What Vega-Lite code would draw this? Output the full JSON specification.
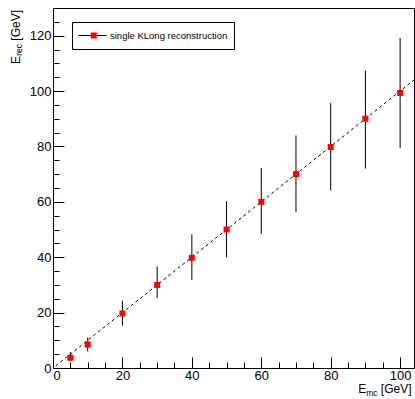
{
  "$schema": "https://vega.github.io/schema/vega-lite/v6.json",
  "width": 361,
  "height": 360,
  "autosize": {"type": "none"},
  "padding": {"left": 53, "top": 8, "right": 1, "bottom": 31},
  "background": "white",
  "config": {
    "view": {"stroke": "black", "strokeWidth": 1},
    "font": "Liberation Sans",
    "axis": {
      "domain": false,
      "grid": false,
      "labelFont": "Liberation Sans",
      "titleFont": "Liberation Sans",
      "labelColor": "black",
      "titleColor": "black",
      "tickColor": "black",
      "tickWidth": 1,
      "labelFontSize": 13,
      "titleFontWeight": "normal",
      "titlePadding": 0
    }
  },
  "datasets": {
    "pts": [
      {"x": 5, "y": 3.7, "lo": 2.6, "hi": 5.7, "series": "single KLong reconstruction", "marker": "single KLong reconstruction"},
      {"x": 10, "y": 8.5, "lo": 6.0, "hi": 11.0, "series": "single KLong reconstruction", "marker": "single KLong reconstruction"},
      {"x": 20, "y": 19.7, "lo": 15.2, "hi": 24.3, "series": "single KLong reconstruction", "marker": "single KLong reconstruction"},
      {"x": 30, "y": 30.0, "lo": 25.3, "hi": 36.7, "series": "single KLong reconstruction", "marker": "single KLong reconstruction"},
      {"x": 40, "y": 39.8, "lo": 31.8, "hi": 48.3, "series": "single KLong reconstruction", "marker": "single KLong reconstruction"},
      {"x": 50, "y": 50.0, "lo": 40.0, "hi": 60.3, "series": "single KLong reconstruction", "marker": "single KLong reconstruction"},
      {"x": 60, "y": 60.0, "lo": 48.4, "hi": 72.2, "series": "single KLong reconstruction", "marker": "single KLong reconstruction"},
      {"x": 70, "y": 70.0, "lo": 56.3, "hi": 84.0, "series": "single KLong reconstruction", "marker": "single KLong reconstruction"},
      {"x": 80, "y": 79.8, "lo": 64.1, "hi": 95.7, "series": "single KLong reconstruction", "marker": "single KLong reconstruction"},
      {"x": 90, "y": 90.0, "lo": 72.0, "hi": 107.4, "series": "single KLong reconstruction", "marker": "single KLong reconstruction"},
      {"x": 100, "y": 99.3, "lo": 79.4, "hi": 119.2, "series": "single KLong reconstruction", "marker": "single KLong reconstruction"}
    ],
    "fit": [
      {"x": 0.8, "y": 0.8},
      {"x": 104, "y": 104}
    ]
  },
  "layer": [
    {
      "data": {"name": "fit"},
      "mark": {"type": "line", "color": "black", "strokeWidth": 1, "strokeDash": [3, 3], "clip": true},
      "encoding": {
        "x": {
          "field": "x", "type": "quantitative",
          "scale": {"domain": [0, 104], "nice": false, "zero": false},
          "axis": {
            "orient": "bottom",
            "values": [0, 5, 10, 15, 20, 25, 30, 35, 40, 45, 50, 55, 60, 65, 70, 75, 80, 85, 90, 95, 100],
            "tickSize": -6, "labels": false,
            "title": "E", "titleFontSize": 12, "titleX": 312.7, "titleY": 24.5,
            "titleAlign": "right", "titleBaseline": "alphabetic", "titleAngle": 0
          }
        },
        "y": {
          "field": "y", "type": "quantitative",
          "scale": {"domain": [0, 130], "nice": false, "zero": false},
          "axis": {
            "orient": "left",
            "values": [0, 5, 10, 15, 20, 25, 30, 35, 40, 45, 50, 55, 60, 65, 70, 75, 80, 85, 90, 95, 100, 105, 110, 115, 120, 125],
            "tickSize": -6, "labels": false,
            "title": "E", "titleFontSize": 12, "titleX": -34, "titleY": 47.5,
            "titleAlign": "right", "titleBaseline": "alphabetic", "titleAngle": 270
          }
        }
      }
    },
    {
      "data": {"name": "pts"},
      "mark": {"type": "rule", "strokeWidth": 1},
      "encoding": {
        "x": {
          "field": "x", "type": "quantitative",
          "axis": {
            "orient": "bottom", "ticks": false, "labels": false,
            "title": "mc", "titleFontSize": 8.5, "titleX": 324, "titleY": 27,
            "titleAlign": "right", "titleBaseline": "alphabetic", "titleAngle": 0
          }
        },
        "y": {
          "field": "lo", "type": "quantitative",
          "axis": {
            "orient": "left", "ticks": false, "labels": false,
            "title": "rec", "titleFontSize": 8.5, "titleX": -31.5, "titleY": 35.5,
            "titleAlign": "right", "titleBaseline": "alphabetic", "titleAngle": 270
          }
        },
        "y2": {"field": "hi"},
        "stroke": {
          "field": "series", "type": "nominal",
          "scale": {"range": ["black"]},
          "legend": {
            "orient": "none", "legendX": 19, "legendY": 14,
            "title": null, "padding": 6, "clipHeight": 15,
            "strokeColor": "black", "fillColor": "white",
            "symbolType": "stroke", "symbolSize": 784,
            "symbolStrokeWidth": 1, "symbolStrokeColor": "black",
            "labelFont": "Liberation Sans", "labelFontSize": 9.5, "labelColor": "black",
            "labelOffset": 3
          }
        }
      }
    },
    {
      "data": {"name": "pts"},
      "mark": {"type": "point", "shape": "square", "filled": true, "size": 36, "opacity": 1},
      "encoding": {
        "x": {
          "field": "x", "type": "quantitative",
          "axis": {
            "orient": "bottom",
            "values": [0, 20, 40, 60, 80, 100],
            "tickSize": -11, "labelPadding": 12,
            "title": "[GeV]", "titleFontSize": 12, "titleX": 358, "titleY": 24.5,
            "titleAlign": "right", "titleBaseline": "alphabetic", "titleAngle": 0
          }
        },
        "y": {
          "field": "y", "type": "quantitative",
          "axis": {
            "orient": "left",
            "values": [0, 20, 40, 60, 80, 100, 120],
            "tickSize": -11, "labelPadding": 13,
            "title": "[GeV]", "titleFontSize": 12, "titleX": -34, "titleY": 1.5,
            "titleAlign": "right", "titleBaseline": "alphabetic", "titleAngle": 270
          }
        },
        "fill": {
          "field": "marker", "type": "nominal",
          "scale": {"range": ["red"]},
          "legend": {
            "orient": "none", "legendX": 19, "legendY": 14,
            "title": null, "padding": 6, "clipHeight": 15,
            "strokeColor": null, "fillColor": null,
            "symbolType": "square", "symbolSize": 36, "symbolOffset": 11,
            "symbolStrokeWidth": 0, "symbolFillColor": "red",
            "labelFont": "Liberation Sans", "labelFontSize": 9.5, "labelExpr": "''",
            "labelOffset": 3
          }
        }
      }
    }
  ],
  "resolve": {"axis": {"x": "independent", "y": "independent"}}
}
